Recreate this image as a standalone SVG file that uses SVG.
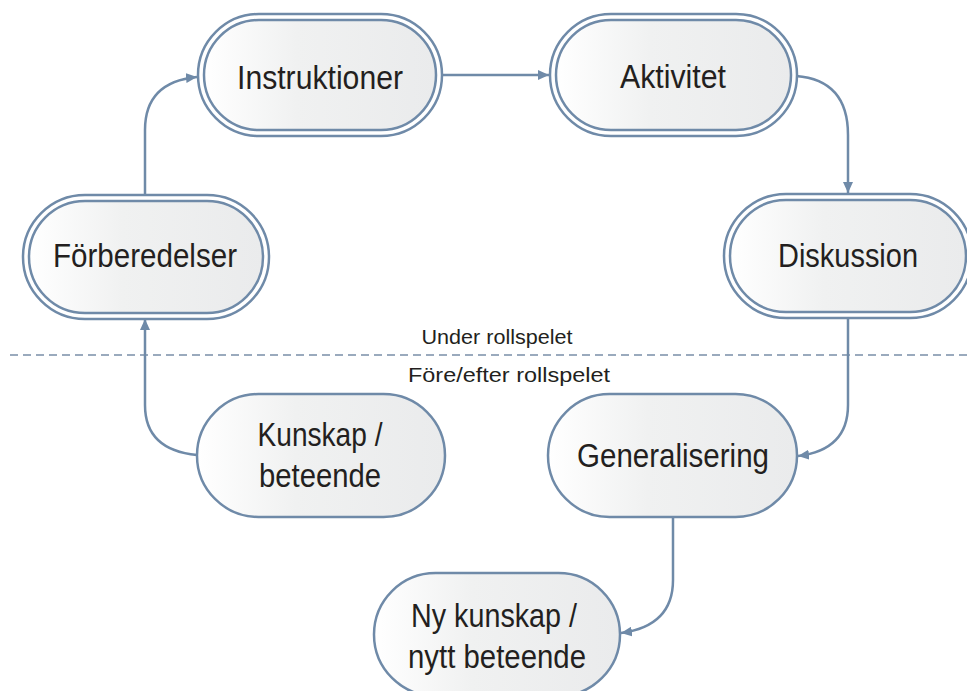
<svg xmlns="http://www.w3.org/2000/svg" width="967" height="691" viewBox="0 0 967 691">
<defs>
<linearGradient id="g" x1="0" y1="0" x2="1" y2="0">
<stop offset="0" stop-color="#ffffff"/>
<stop offset="0.4" stop-color="#f0f1f1"/>
<stop offset="1" stop-color="#eaebec"/>
</linearGradient>
<marker id="ah" markerUnits="userSpaceOnUse" markerWidth="12" markerHeight="10" refX="11" refY="5" orient="auto">
<path d="M0,0 L11,5 L0,10 z" fill="#6f8aa8"/>
</marker>
<style>
.o{fill:#ffffff;stroke:#6f8aa8;stroke-width:2.5}
.i{fill:url(#g);stroke:#6f8aa8;stroke-width:2.5}
.t{font-family:"Liberation Sans",Arial,sans-serif;font-size:33px;fill:#231f20;text-anchor:middle}
.l{font-family:"Liberation Sans",Arial,sans-serif;font-size:20px;fill:#231f20;text-anchor:middle}
.c{fill:none;stroke:#6f8aa8;stroke-width:2.5;marker-end:url(#ah)}
</style>
</defs>
<rect width="967" height="691" fill="#ffffff"/>
<line x1="10" y1="355" x2="967" y2="355" stroke="#7a8ea8" stroke-width="1.5" stroke-dasharray="8,5"/>
<text class="l" x="497" y="344" textLength="151" lengthAdjust="spacingAndGlyphs">Under rollspelet</text>
<text class="l" x="509" y="382" textLength="202" lengthAdjust="spacingAndGlyphs">Före/efter rollspelet</text>
<g id="connectors">
<path class="c" d="M442 75 L549 75"/>
<path class="c" d="M796 76 Q848 80 848 135 L848 193"/>
<path class="c" d="M848 318 L848 405 Q848 450 798 456"/>
<path class="c" d="M673 517 L673 580 Q673 626 621 633"/>
<path class="c" d="M197 455 Q145 450 145 405 L145 319"/>
<path class="c" d="M145 195 L145 130 Q145 82 197 77"/>
</g>
<g id="instruktioner">
<rect class="o" x="198" y="14" width="244" height="122" rx="61"/>
<rect class="i" x="204" y="20" width="232" height="110" rx="55"/>
<text class="t" x="320" y="89" textLength="166" lengthAdjust="spacingAndGlyphs">Instruktioner</text>
</g>
<g id="aktivitet">
<rect class="o" x="550" y="14" width="247" height="122" rx="61"/>
<rect class="i" x="556" y="20" width="235" height="110" rx="55"/>
<text class="t" x="673" y="88" textLength="106" lengthAdjust="spacingAndGlyphs">Aktivitet</text>
</g>
<g id="forberedelser">
<rect class="o" x="23" y="195" width="246" height="124" rx="62"/>
<rect class="i" x="29" y="201" width="234" height="112" rx="56"/>
<text class="t" x="145" y="267" textLength="184" lengthAdjust="spacingAndGlyphs">Förberedelser</text>
</g>
<g id="diskussion">
<rect class="o" x="724" y="194" width="248" height="124" rx="62"/>
<rect class="i" x="730" y="200" width="236" height="112" rx="56"/>
<text class="t" x="848" y="267" textLength="140" lengthAdjust="spacingAndGlyphs">Diskussion</text>
</g>
<g id="kunskap">
<rect class="i" x="197" y="394" width="248" height="123" rx="61.5"/>
<text class="t" x="320" y="446" textLength="125" lengthAdjust="spacingAndGlyphs">Kunskap /</text>
<text class="t" x="320" y="487" textLength="122" lengthAdjust="spacingAndGlyphs">beteende</text>
</g>
<g id="generalisering">
<rect class="i" x="548" y="394" width="249" height="123" rx="61.5"/>
<text class="t" x="673" y="467" textLength="192" lengthAdjust="spacingAndGlyphs">Generalisering</text>
</g>
<g id="ny">
<rect class="i" x="374" y="573" width="246" height="123" rx="61.5"/>
<text class="t" x="494" y="627" textLength="166" lengthAdjust="spacingAndGlyphs">Ny kunskap /</text>
<text class="t" x="497" y="668" textLength="178" lengthAdjust="spacingAndGlyphs">nytt beteende</text>
</g>
</svg>
